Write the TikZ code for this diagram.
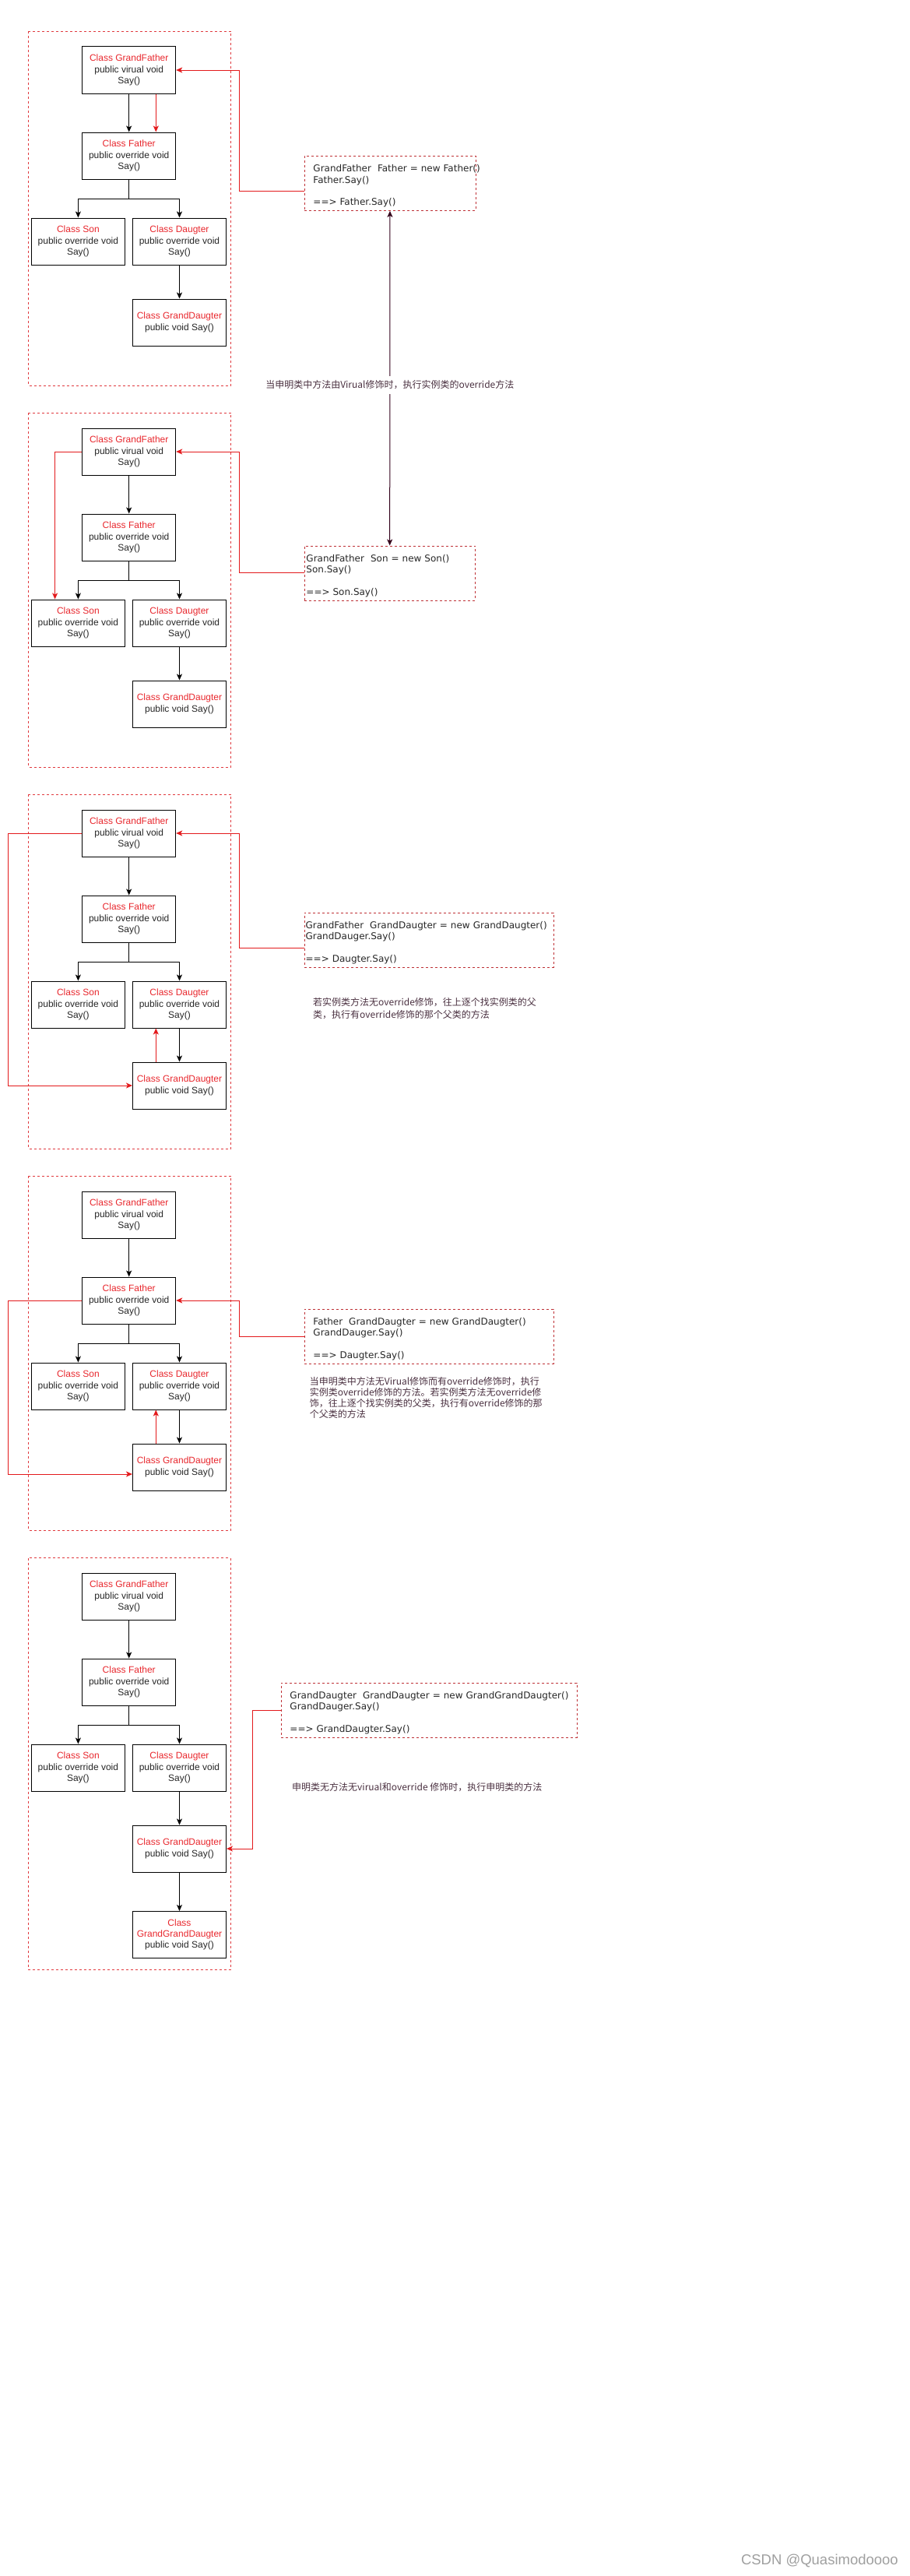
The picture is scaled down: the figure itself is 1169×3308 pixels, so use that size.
\documentclass[tikz,border=0pt]{standalone}
\usepackage{fontspec}
\setmainfont{Liberation Sans}
\newfontfamily\codefont{DejaVu Sans}
\newfontfamily\cjk{Noto Sans CJK SC}
\usetikzlibrary{arrows.meta,positioning}

\definecolor{clsred}{HTML}{E8282E}
\definecolor{linkred}{HTML}{E31A1C}
\definecolor{framered}{HTML}{E0393E}
\definecolor{notecol}{HTML}{4A3040}
\definecolor{arrowdark}{HTML}{33001A}

\tikzset{
  cls/.style={draw, line width=1pt, minimum width=120pt, minimum height=60pt,
    align=center, inner sep=2pt, text=black!85, font=\fontsize{12}{14.3}\selectfont},
  panel/.style={draw=framered, line width=0.9pt, dash pattern=on 3pt off 3pt},
  codebox/.style={draw=framered!85!black, line width=0.9pt, dash pattern=on 3pt off 3pt,
    anchor=north west, align=left, inner ysep=0pt, text=black!85,
    font=\codefont\fontsize{12}{14.3}\selectfont},
  note/.style={text=notecol, font=\cjk\fontsize{12}{14.2}\selectfont},
  inh/.style={->, line width=1pt},
  call/.style={->, line width=1pt, draw=linkred},
}

\begin{document}
\begin{tikzpicture}[x=1pt, y=-1pt, >={Stealth[length=8pt,width=7pt,inset=2pt]}]
    \useasboundingbox (0,0) rectangle (1169,3308);

    % Rammer
    \foreach \p [evaluate=\p as \off using (\p-1)*490] in {1,...,4}
      \draw[panel] (36.5, 40+\off) rectangle (296.7, 495+\off);
    \draw[panel] (36, 2000.5) rectangle (296, 2529);

    % Klassetre (likt i alle fem)
    \foreach \p [evaluate=\p as \off using (\p-1)*490] in {1,...,5} {
      \node[cls] (gf\p) at (165.7, 90+\off)
        {\textcolor{clsred}{Class GrandFather}\\public virual void\\Say()};
      \node[cls] (fa\p) at (165.7, 200+\off)
        {\textcolor{clsred}{Class Father}\\public override void\\Say()};
      \node[cls] (son\p) at (100.4, 310+\off)
        {\textcolor{clsred}{Class Son}\\public override void\\Say()};
      \node[cls] (dau\p) at (230.5, 310+\off)
        {\textcolor{clsred}{Class Daugter}\\public override void\\Say()};
      \node[cls] (gd\p) at (230.5, 414+\off)
        {\textcolor{clsred}{Class GrandDaugter}\\public void Say()};
      \draw[inh] (gf\p) -- (fa\p);
      \draw[inh] (fa\p.south) -- ++(0,25) -| (son\p.north);
      \draw[inh] (fa\p.south) -- ++(0,25) -| (dau\p.north);
      \draw[inh] (dau\p) -- (gd\p);
    }
    \node[cls] (ggd5) at (230.5, 2484.5)
      {\textcolor{clsred}{Class}\\\textcolor{clsred}{GrandGrandDaugter}\\public void Say()};
    \draw[inh] (gd5) -- (ggd5);

    % Kodebokser
    \node[codebox, inner xsep=11.5pt, text width=197pt] (code1) at (390.5, 200)
      {\rule{0pt}{20.5pt}\mbox{GrandFather\ \ Father = new Father()}\\Father.Say()\\[14.3pt]==> Father.Say()\rule[-6.6pt]{0pt}{6.6pt}};
    \node[codebox, inner xsep=2.5pt, text width=214.5pt] (code2) at (390.5, 700.5)
      {\rule{0pt}{20.5pt}\mbox{GrandFather\ \ Son = new Son()}\\Son.Say()\\[14.3pt]==> Son.Say()\rule[-6.6pt]{0pt}{6.6pt}};
    \node[codebox, inner xsep=1.5pt, text width=317pt] (code3) at (390.7, 1171.7)
      {\rule{0pt}{20.5pt}\mbox{GrandFather\ \ GrandDaugter = new GrandDaugter()}\\GrandDauger.Say()\\[14.3pt]==> Daugter.Say()\rule[-6.6pt]{0pt}{6.6pt}};
    \node[codebox, inner xsep=11.3pt, text width=297.4pt] (code4) at (390.7, 1680.7)
      {\rule{0pt}{20.5pt}\mbox{Father\ \ GrandDaugter = new GrandDaugter()}\\GrandDauger.Say()\\[14.3pt]==> Daugter.Say()\rule[-6.6pt]{0pt}{6.6pt}};
    \node[codebox, inner xsep=11.3pt, text width=357.4pt] (code5) at (360.7, 2160.7)
      {\rule{0pt}{20.5pt}\mbox{GrandDaugter\ \ GrandDaugter = new GrandGrandDaugter()}\\GrandDauger.Say()\\[14.3pt]==> GrandDaugter.Say()\rule[-6.6pt]{0pt}{6.6pt}};

    % Kall (raude piler)
    \draw[call] ([xshift=34.6pt]gf1.south) -- ([xshift=34.6pt]fa1.north);
    \draw[call] ([yshift=-10pt]code1.west) -- ++(-83,0) |- (gf1.east);

    \draw[call] (gf2.west) -| ([xshift=-29.8pt]son2.north);
    \draw[call] (code2.west) -- ++(-83,0) |- (gf2.east);

    \draw[call] (gf3.west) -- ++(-94.7,0) |- (gd3.west);
    \draw[call] ([xshift=-30.2pt]gd3.north) -- ([xshift=-30.2pt]dau3.south);
    \draw[call] ([yshift=-10pt]code3.west) -- ++(-83,0) |- (gf3.east);

    \draw[call] (fa4.west) -- ++(-94.7,0) |- ([yshift=-9pt]gd4.west);
    \draw[call] ([xshift=-30.2pt]gd4.north) -- ([xshift=-30.2pt]dau4.south);
    \draw[call] (code4.west) -- ++(-83,0) |- (fa4.east);

    \draw[call] (code5.west) -- ++(-36,0) |- (gd5.east);

    % Forklaringer
    \draw[<->, line width=1pt, arrowdark] (code1.south) -- (code2.north)
      node[pos=0.52, fill=white, inner sep=6pt, note] (rule1)
      {当申明类中方法由Virual修饰时，执行实例类的override方法};
    \node[note, anchor=north west, align=left, inner sep=0pt,
          font=\cjk\fontsize{12}{16.6}\selectfont] (rule3) at (402, 1281)
      {若实例类方法无override修饰，往上逐个找实例类的父\\类，执行有override修饰的那个父类的方法};
    \node[note, anchor=north west, align=left, inner sep=0pt] (rule4) at (397.7, 1768)
      {当申明类中方法无Virual修饰而有override修饰时，执行\\实例类override修饰的方法。若实例类方法无override修\\饰，往上逐个找实例类的父类，执行有override修饰的那\\个父类的方法};
    \node[note, anchor=north west, inner sep=0pt] (rule5) at (375, 2289)
      {申明类无方法无virual和override 修饰时，执行申明类的方法};

    % Vassmerke
    \node[anchor=east, inner sep=0pt, text=gray!75, font=\fontsize{18.5}{20}\selectfont]
      (mark) at (1154, 3289) {CSDN @Quasimodoooo};
\end{tikzpicture}
\end{document}
